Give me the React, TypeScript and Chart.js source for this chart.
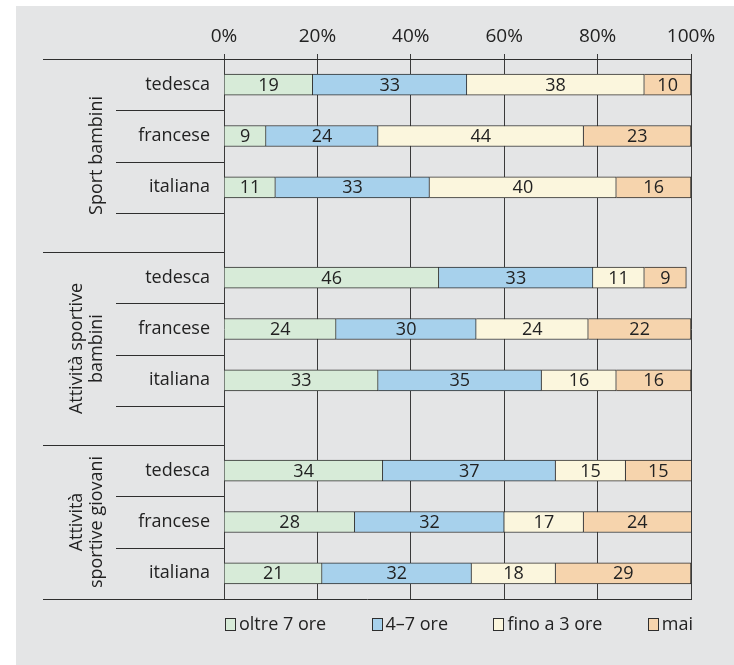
import { useEffect, useRef } from "react";
import { Chart, registerables } from "chart.js";

Chart.register(...registerables);

// Survey groups (multi-line labels use "\n") and the nationalities in each group
const groupLabels = ["Sport bambini", "Attività sportive\nbambini", "Attività\nsportive giovani"];
const nationalities = ["tedesca", "francese", "italiana"];

// Legend names of the four answer classes
const seriesNames = ["oltre 7 ore", "4–7 ore", "fino a 3 ore", "mai"];

// Percentages, one value per row (3 nationalities × 3 groups, top to bottom)
const oltre7Ore = [19, 9, 11, 46, 24, 33, 34, 28, 21];
const da4a7Ore = [33, 24, 33, 33, 30, 35, 37, 32, 32];
const fino3Ore = [38, 44, 40, 11, 24, 16, 15, 17, 18];
const maiValues = [10, 23, 16, 9, 22, 16, 15, 24, 29];

// Percent ticks on the top axis
const xTicks = [0, 20, 40, 60, 80, 100];

const seriesValues = [oltre7Ore, da4a7Ore, fino3Ore, maiValues];
const seriesColors = ["#d7ebd8", "#a7d1ec", "#fbf6dd", "#f6d4ad"];

const FONT = "'Open Sans', 'DejaVu Sans', sans-serif";
const TEXT = "#222222";
const RULE = "#2e2e2e";

// Row layout in "row units": each nationality takes one row, groups are
// separated by a shorter empty band.
const GROUP_GAP = 0.76;
const groupStarts: number[] = [];
const groupEnds: number[] = [];
const rowPositions: number[] = [];
{
  let y = 0;
  groupLabels.forEach((_, gi) => {
    groupStarts.push(y);
    nationalities.forEach(() => {
      rowPositions.push(y + 0.5);
      y += 1;
    });
    if (gi < groupLabels.length - 1) y += GROUP_GAP;
    groupEnds.push(y);
  });
}
const totalRows = groupEnds[groupEnds.length - 1];

const crisp = (v: number) => Math.round(v) + 0.5;

const decorations = {
  id: "decorations",
  afterDatasetsDraw(chart: any) {
    const ctx = chart.ctx;
    ctx.save();
    ctx.font = `18px ${FONT}`;
    ctx.fillStyle = TEXT;
    ctx.textAlign = "center";
    ctx.textBaseline = "middle";
    chart.data.datasets.forEach((ds: any, di: number) => {
      const meta = chart.getDatasetMeta(di);
      meta.data.forEach((bar: any, j: number) => {
        const { x, base, y } = bar.getProps(["x", "base", "y"], true);
        const right = Math.min(x, chart.chartArea.right);
        ctx.fillText(String(seriesValues[di][j]), (right + base) / 2, y + 1);
      });
    });
    ctx.restore();
  },
  afterDraw(chart: any) {
    const ctx = chart.ctx;
    const area = chart.chartArea;
    const yScale = chart.scales.y;
    const longLeft = 27;
    const shortLeft = 100;

    ctx.save();
    ctx.strokeStyle = RULE;
    ctx.lineWidth = 1;
    const hLine = (x0: number, x1: number, v: number) => {
      const py = crisp(yScale.getPixelForValue(v));
      ctx.beginPath();
      ctx.moveTo(x0, py);
      ctx.lineTo(x1, py);
      ctx.stroke();
    };

    // top and bottom frame rules
    hLine(longLeft, area.right + 1, 0);
    hLine(longLeft, area.right + 1, totalRows);

    groupStarts.forEach((start, gi) => {
      if (gi > 0) hLine(longLeft, area.left, start);
      const last = gi === groupStarts.length - 1;
      const n = last ? nationalities.length - 1 : nationalities.length;
      for (let k = 1; k <= n; k++) hLine(shortLeft, area.left, start + k);
    });

    // rotated group titles
    ctx.fillStyle = TEXT;
    ctx.font = `18px ${FONT}`;
    ctx.textAlign = "center";
    ctx.textBaseline = "alphabetic";
    const lineStep = 20;
    const baseX = 86;
    groupLabels.forEach((label, gi) => {
      const cy = (yScale.getPixelForValue(groupStarts[gi]) + yScale.getPixelForValue(groupEnds[gi])) / 2;
      const lines = label.split("\n");
      ctx.save();
      ctx.translate(baseX, cy);
      ctx.rotate(-Math.PI / 2);
      lines.forEach((ln, li) => {
        ctx.fillText(ln, 0, -(lines.length - 1 - li) * lineStep);
      });
      ctx.restore();
    });

    // legend, spread across the plot width
    const boxW = 10;
    const boxH = 12;
    const textGap = 4;
    const widths = seriesNames.map((n) => boxW + textGap + ctx.measureText(n).width);
    const used = widths.reduce((a, b) => a + b, 0);
    const gap = (area.right + 2 - (area.left + 1) - used) / (seriesNames.length - 1);
    const cy = area.bottom + 25;
    let lx = area.left + 1;
    ctx.textAlign = "left";
    ctx.textBaseline = "middle";
    seriesNames.forEach((name, i) => {
      const bx = Math.round(lx) + 0.5;
      const by = Math.round(cy - boxH / 2) + 0.5;
      ctx.fillStyle = seriesColors[i];
      ctx.fillRect(bx, by, boxW, boxH);
      ctx.strokeStyle = RULE;
      ctx.strokeRect(bx, by, boxW, boxH);
      ctx.fillStyle = TEXT;
      ctx.fillText(name, lx + boxW + textGap, cy + 1);
      lx += widths[i] + gap;
    });
    ctx.restore();
  },
};

export default function App() {
  const canvasRef = useRef<HTMLCanvasElement | null>(null);

  useEffect(() => {
    const canvas = canvasRef.current;
    if (!canvas) return;
    Chart.defaults.font.family = FONT;
    Chart.defaults.font.size = 18;
    Chart.defaults.color = TEXT;

    const chart = new Chart(canvas, {
      type: "bar",
      data: {
        datasets: seriesNames.map((name, si) => ({
          label: name,
          data: seriesValues[si].map((v, i) => ({ x: v, y: rowPositions[i] })),
          backgroundColor: seriesColors[si],
          borderColor: RULE,
          borderWidth: 1,
          barThickness: 21,
        })),
      },
      options: {
        indexAxis: "y",
        responsive: false,
        animation: false,
        devicePixelRatio: 1,
        layout: { padding: { left: 0, top: 0, right: 43, bottom: 66 } },
        plugins: {
          legend: { display: false },
          tooltip: { enabled: false },
        },
        scales: {
          x: {
            type: "linear",
            position: "top",
            min: 0,
            max: 100,
            stacked: true,
            afterBuildTicks: (s: any) => {
              s.ticks = xTicks.map((v) => ({ value: v }));
            },
            afterFit: (s: any) => {
              s.height = 53;
            },
            ticks: {
              callback: (v: any) => `${v}%`,
              padding: 6,
              color: TEXT,
              font: { size: 19, family: FONT },
            },
            grid: { color: "#3a3a3a", lineWidth: 1, tickLength: 5, drawTicks: true },
            border: { display: true, color: "#3a3a3a" },
          },
          y: {
            type: "linear",
            reverse: true,
            offset: false,
            min: 0,
            max: totalRows,
            stacked: true,
            afterBuildTicks: (s: any) => {
              s.ticks = rowPositions.map((v) => ({ value: v }));
            },
            afterFit: (s: any) => {
              s.width = 208;
            },
            ticks: {
              autoSkip: false,
              padding: 14,
              color: TEXT,
              font: { size: 18, family: FONT },
              callback: (_v: any, i: number) => nationalities[i % nationalities.length],
            },
            grid: { display: false, drawTicks: false, offset: false },
            border: { display: false },
          },
        },
      } as any,
      plugins: [decorations],
    });

    return () => chart.destroy();
  }, []);

  return (
    <div
      style={{
        position: "absolute",
        left: 16,
        top: 6,
        width: 718,
        height: 659,
        background: "#e4e5e6",
      }}
    >
      <canvas ref={canvasRef} width={718} height={659} style={{ display: "block" }} />
    </div>
  );
}
